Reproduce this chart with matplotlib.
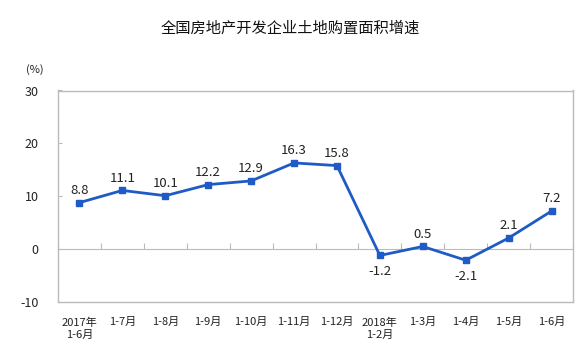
import matplotlib
matplotlib.use("Agg")
import matplotlib.pyplot as plt
import numpy as np

plt.rcParams['font.family'] = ['Noto Sans CJK SC', 'DejaVu Sans']

categories = ["2017年\n1-6月", "1-7月", "1-8月", "1-9月", "1-10月", "1-11月", "1-12月",
              "2018年\n1-2月", "1-3月", "1-4月", "1-5月", "1-6月"]
values = [8.8, 11.1, 10.1, 12.2, 12.9, 16.3, 15.8, -1.2, 0.5, -2.1, 2.1, 7.2]
yticks = [-10, 0, 10, 20, 30]
title = "全国房地产开发企业土地购置面积增速"

fig = plt.figure(figsize=(5.8, 3.51), dpi=100)
ax = fig.add_axes([58/580, 1-302/351, (573-58)/580, (302-90.5)/351])

x = np.arange(len(values))
color = "#1F5BC6"
ax.plot(x, values, color=color, lw=2, marker='s', ms=5, zorder=3)

for xi, v in zip(x, values):
    if v < 0:
        ax.annotate(f"{v}", (xi, v), xytext=(0, -7), textcoords='offset points',
                    ha='center', va='top', fontsize=9.5, color='#222222')
    else:
        ax.annotate(f"{v}", (xi, v), xytext=(0, 4), textcoords='offset points',
                    ha='center', va='bottom', fontsize=9.5, color='#222222')

ax.set_xlim(-0.5, len(values) - 0.5)
ax.set_ylim(-10, 30)
ax.set_yticks(yticks)
ax.set_yticklabels([str(t) for t in yticks], fontsize=9, color='#222222')
ax.tick_params(axis='y', length=3, direction='in', color='#bbbbbb', pad=14)
ax.set_xticks(x)
ax.set_xticklabels(categories, fontsize=8, color='#222222', linespacing=1.25)
ax.tick_params(axis='x', length=0, pad=11)
for lab in ax.get_xticklabels():
    lab.set_verticalalignment('top')

for s in ax.spines.values():
    s.set_color('#bbbbbb')
    s.set_linewidth(1)

# zero axis with tick marks between categories
sec = ax.secondary_xaxis(0.25)
sec.set_xticks(np.arange(len(values) + 1) - 0.5)
sec.set_xticklabels([])
sec.tick_params(direction='in', length=4, color='#bbbbbb')
sec.spines['bottom'].set_color('#bbbbbb')

fig.text(0.5, 1 - 28/351, title, ha='center', va='center', fontsize=11, color='#111111')
fig.text(35/580, 1 - 70/351, "(%)", ha='center', va='center', fontsize=8, color='#222222')

fig.savefig("out.png", dpi=100)
